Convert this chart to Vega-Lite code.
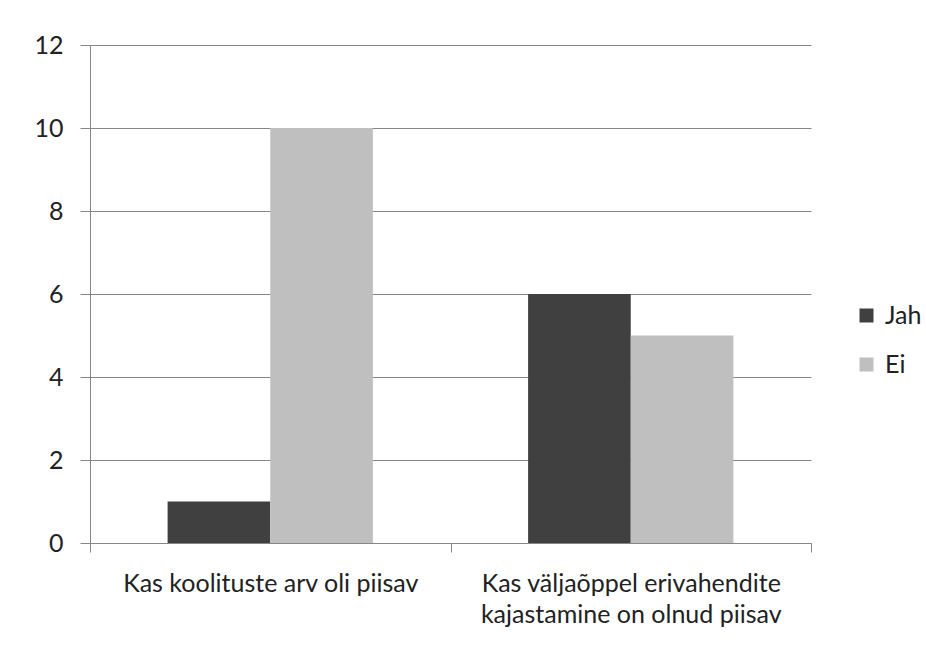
{
  "$schema": "https://vega.github.io/schema/vega-lite/v6.json",
  "width": 721,
  "height": 498,
  "autosize": {"type": "none"},
  "padding": {"left": 90, "top": 45, "right": 115, "bottom": 112},
  "background": "white",
  "data": {
    "values": [
      {"question": "Kas koolituste arv oli piisav", "answer": "Jah", "count": 1},
      {"question": "Kas koolituste arv oli piisav", "answer": "Ei", "count": 10},
      {"question": "Kas väljaõppel erivahendite kajastamine on olnud piisav", "answer": "Jah", "count": 6},
      {"question": "Kas väljaõppel erivahendite kajastamine on olnud piisav", "answer": "Ei", "count": 5}
    ]
  },
  "mark": {"type": "bar"},
  "encoding": {
    "x": {
      "field": "question",
      "type": "nominal",
      "sort": null,
      "scale": {"paddingInner": 0, "paddingOuter": 0},
      "axis": {
        "title": null,
        "labelAngle": 0,
        "domainColor": "#868686",
        "tickColor": "#868686",
        "tickSize": 9,
        "tickBand": "extent",
        "grid": false,
        "labelFontSize": 25,
        "labelColor": "#222222",
        "labelPadding": 19,
        "labelLineHeight": 31,
        "labelBaseline": "top",
        "labelLimit": 0,
        "labelExpr": "datum.value == 'Kas väljaõppel erivahendite kajastamine on olnud piisav' ? ['Kas väljaõppel erivahendite', 'kajastamine on olnud piisav'] : datum.value"
      }
    },
    "xOffset": {
      "field": "answer",
      "type": "nominal",
      "sort": ["Jah", "Ei"],
      "scale": {"paddingInner": 0, "paddingOuter": 0.756}
    },
    "y": {
      "field": "count",
      "type": "quantitative",
      "scale": {"domain": [0, 12], "nice": false},
      "axis": {
        "title": null,
        "values": [0, 2, 4, 6, 8, 10, 12],
        "grid": true,
        "gridColor": "#868686",
        "gridWidth": 1,
        "domainColor": "#868686",
        "tickColor": "#868686",
        "tickSize": 10,
        "labelPadding": 17,
        "labelFontSize": 25,
        "labelColor": "#222222"
      }
    },
    "color": {
      "field": "answer",
      "type": "nominal",
      "sort": ["Jah", "Ei"],
      "scale": {"domain": ["Jah", "Ei"], "range": ["#404040", "#BFBFBF"]},
      "legend": {
        "title": null,
        "orient": "none",
        "legendX": 764,
        "legendY": 258,
        "padding": 0,
        "symbolType": "square",
        "symbolSize": 196,
        "symbolStrokeWidth": 0,
        "labelFontSize": 25,
        "labelColor": "#222222",
        "labelOffset": 6,
        "rowPadding": 23
      }
    }
  },
  "config": {
    "view": {"stroke": null},
    "font": "Lato",
    "axis": {"domainWidth": 1, "tickWidth": 1}
  }
}
